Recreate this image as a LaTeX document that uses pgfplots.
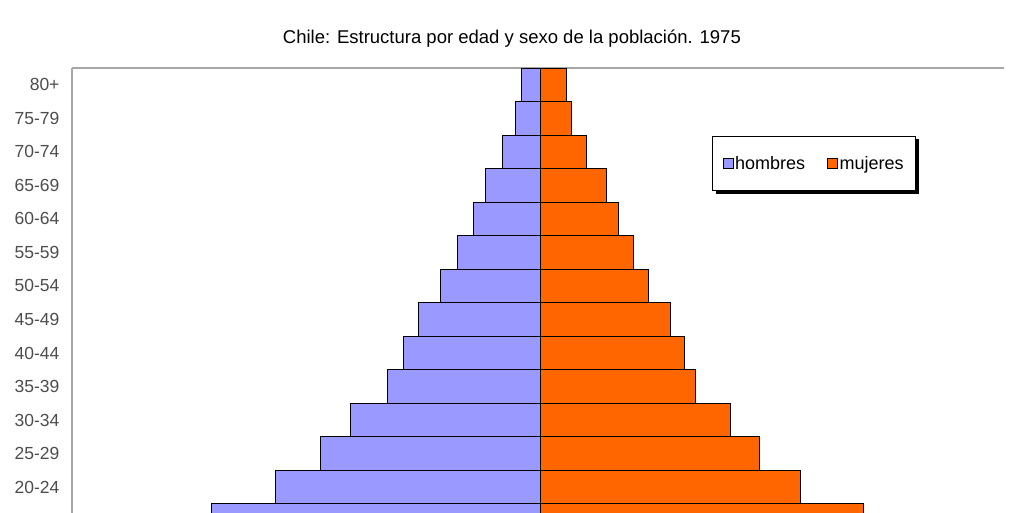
\documentclass[border=0pt]{standalone}
\usepackage{pgfplots}
\usepackage{pgfplotstable}
\pgfplotsset{compat=1.18}
\usepackage{fontspec}
\setmainfont{Liberation Sans}
\usetikzlibrary{shadows}

\definecolor{hombres}{HTML}{9999FF}
\definecolor{mujeres}{HTML}{FF6600}
\definecolor{marco}{HTML}{A6A6A6}
\definecolor{etiq}{HTML}{4D4D4D}

% la sombra de la leyenda no debe pasar a los cuadritos
\makeatletter
\tikzset{sin sombra/.code={\let\tikz@preactions\pgfutil@empty}}
\makeatother

% ancho de cada barra (unidades relativas)
\pgfplotstableread{
idx grupo hombres mujeres
3  15-19 329 323
4  20-24 265 260
5  25-29 220 219
6  30-34 190 190
7  35-39 153 155
8  40-44 137 144
9  45-49 122 130
10 50-54 100 108
11 55-59 83  93
12 60-64 67  78
13 65-69 55  66
14 70-74 38  46
15 75-79 25  31
16 80+   19  26
}\datos

\begin{document}
\begin{tikzpicture}[x=1pt,y=1pt]
\useasboundingbox (0,-512) rectangle (1024,0);
\begin{axis}[
  at={(72pt,-68pt)}, anchor=north west,
  scale only axis, width=932pt, height=570pt,
  xmin=-468, xmax=464, ymin=-0.5, ymax=16.5,
  xbar, bar width=1, bar shift=0pt,
  axis x line*=top, axis y line*=left,
  axis line style={draw=marco, line width=1.3pt},
  xtick=\empty,
  ytick={3,...,16},
  yticklabels={15-19,20-24,25-29,30-34,35-39,40-44,45-49,50-54,55-59,60-64,65-69,70-74,75-79,80+},
  major tick length=0pt,
  yticklabel style={font=\fontsize{17.5}{20}\selectfont, text=etiq, xshift=-9pt},
  every axis title/.style={at={(0.472,1)}, anchor=base, yshift=25pt,
    font=\fontsize{18.5}{22}\selectfont},
  title={Chile: Estructura por edad y sexo de la población. 1975},
  legend style={at={(0.687,0.881)}, anchor=north west, legend columns=2,
    draw=black, line width=0.8pt,
    drop shadow={shadow xshift=3pt, shadow yshift=-3pt, fill=black, opacity=1},
    fill=white, font=\fontsize{18}{20}\selectfont,
    inner xsep=10pt, inner ysep=18pt,
    /tikz/every even column/.append style={column sep=20pt}},
  legend image code/.code={\draw[#1, sin sombra, line width=0.5pt] (0pt,-5pt) rectangle (10pt,5pt);},
]
\addplot[draw=black, line width=0.9pt, fill=hombres] table[x expr=-\thisrow{hombres}, y=idx] {\datos};
\addplot[draw=black, line width=0.9pt, fill=mujeres] table[x=mujeres, y=idx] {\datos};
\legend{hombres, mujeres}
\end{axis}
\end{tikzpicture}
\end{document}
